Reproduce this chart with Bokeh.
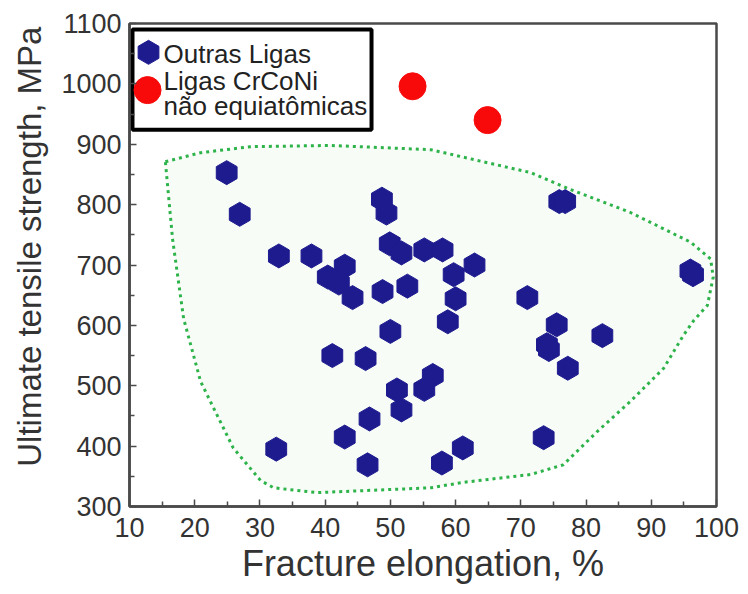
import math
from bokeh.plotting import figure
from bokeh.models import Range1d, FixedTicker
from bokeh.core.properties import value
from bokeh.embed import file_html
from bokeh.resources import INLINE

# ---- data ----
outras_x = [24.9, 26.9, 32.9, 37.9, 43.0, 40.4, 42.1, 44.2, 48.7, 49.4, 49.9, 51.7,
            55.2, 58.0, 48.8, 52.6, 59.7, 62.9, 60.0, 58.8, 50.0, 41.1, 46.2, 51.0,
            51.7, 56.5, 55.2, 46.8, 43.0, 32.5, 46.5, 57.9, 61.1, 71.0, 75.5, 74.0,
            74.3, 77.2, 73.5, 82.5, 75.9, 76.8, 96.0, 96.4]
outras_y = [853, 784, 715, 715, 698, 680, 670, 646, 809, 786, 735, 720,
            725, 725, 656, 665, 684, 700, 644, 606, 590, 550, 545, 493,
            460, 517, 494, 445, 415, 395, 369, 372, 397, 646, 601, 568,
            560, 529, 414, 583, 805, 805, 690, 684]

crconi_x = [53.4, 64.9]
crconi_y = [996, 940]

hull_x = [15.5, 20.9, 28.6, 40.8, 56.2, 71.5, 77.6, 86.8, 96.0, 99.1, 99.5, 98.6,
          96.5, 94.9, 91.9, 86.8, 81.8, 76.5, 71.5, 61.2, 56.2, 38.8, 32.1, 30.1,
          25.9, 20.9, 18.3, 16.6]
hull_y = [871, 886, 896, 898, 891, 853, 825, 787, 738, 710, 680, 633,
          608, 583, 529, 474, 425, 369, 353, 340, 331, 323, 331, 343,
          397, 507, 611, 743]

x_ticks = [10, 20, 30, 40, 50, 60, 70, 80, 90, 100]
x_minor = [15, 25, 35, 45, 55, 65, 75, 85, 95]
y_ticks = [300, 400, 500, 600, 700, 800, 900, 1000, 1100]
y_minor = [350, 450, 550, 650, 750, 850, 950, 1050]

legend_labels = ["Outras Ligas", "Ligas CrCoNi", "não equiatômicas"]

# ---- styling ----
FONT = "Liberation Sans"
BLUE = "#1e1b8f"
RED = "#f80a0a"
GREEN = "#2db34a"
AXIS = "#4a4a4a"
TXT = "#333333"

p = figure(width=740, height=586, output_backend="svg", toolbar_location=None,
           x_range=Range1d(10, 100), y_range=Range1d(300, 1100),
           min_border_left=129, min_border_right=24, min_border_top=23,
           min_border_bottom=77)
p.extra_x_ranges = {"frac": Range1d(0, 1)}
p.extra_y_ranges = {"frac": Range1d(0, 1)}

p.xgrid.visible = False
p.ygrid.visible = False
p.background_fill_color = "white"
p.border_fill_color = "white"
p.outline_line_color = AXIS
p.outline_line_width = 2.5

p.xaxis.ticker = FixedTicker(ticks=x_ticks, minor_ticks=x_minor)
p.yaxis.ticker = FixedTicker(ticks=y_ticks, minor_ticks=y_minor)
for ax in (p.xaxis, p.yaxis):
    ax.axis_line_color = AXIS
    ax.axis_line_width = 2.5
    ax.major_tick_line_color = AXIS
    ax.major_tick_line_width = 1.5
    ax.minor_tick_line_color = AXIS
    ax.minor_tick_line_width = 1.5
    ax.major_tick_in = 7
    ax.major_tick_out = 0
    ax.minor_tick_in = 5
    ax.minor_tick_out = 0
    ax.major_label_text_font = FONT
    ax.major_label_text_font_size = "27px"
    ax.major_label_text_color = TXT
    ax.axis_label_text_font = FONT
    ax.axis_label_text_font_style = "normal"
    ax.axis_label_text_color = TXT

p.xaxis.major_label_standoff = 11
p.yaxis.major_label_standoff = 8
p.xaxis.axis_label = "Fracture elongation, %"
p.xaxis.axis_label_text_font_size = "36px"
p.xaxis.axis_label_standoff = 3
# leading no-break spaces lift the (centred) label a little, as in the reference
p.yaxis.axis_label = "\u00a0\u00a0\u00a0\u00a0Ultimate tensile strength, MPa"
p.yaxis.axis_label_text_font_size = "33px"
p.yaxis.axis_label_standoff = 10

# hull region
p.patch(hull_x, hull_y, fill_color="#f8fcf7", line_color=GREEN, line_width=3,
        line_dash="3 4")

# points
p.scatter(outras_x, outras_y, marker="hex", size=24, angle=math.pi / 2,
          fill_color=BLUE, line_color=BLUE, line_width=1)
p.scatter(crconi_x, crconi_y, marker="circle", size=27,
          fill_color=RED, line_color=RED, line_width=1)

# legend (frame fractions)
p.quad(left=[0.0051], right=[0.4123], top=[0.9877], bottom=[0.7798],
       fill_color="white", line_color="black", line_width=4,
       x_range_name="frac", y_range_name="frac")
p.scatter([0.0324], [0.9403], marker="hex", size=24, angle=math.pi / 2,
          fill_color=BLUE, line_color=BLUE, x_range_name="frac", y_range_name="frac")
p.scatter([0.0307], [0.8621], marker="circle", size=27,
          fill_color=RED, line_color=RED, x_range_name="frac", y_range_name="frac")
p.text(x=[0.0579, 0.0579, 0.0579], y=[0.936, 0.8807, 0.829], text=legend_labels,
       text_font=value(FONT), text_font_size="26px", text_color="#222222",
       text_align="left", text_baseline="middle",
       x_range_name="frac", y_range_name="frac")

open("out.html", "w").write(file_html(p, INLINE))
